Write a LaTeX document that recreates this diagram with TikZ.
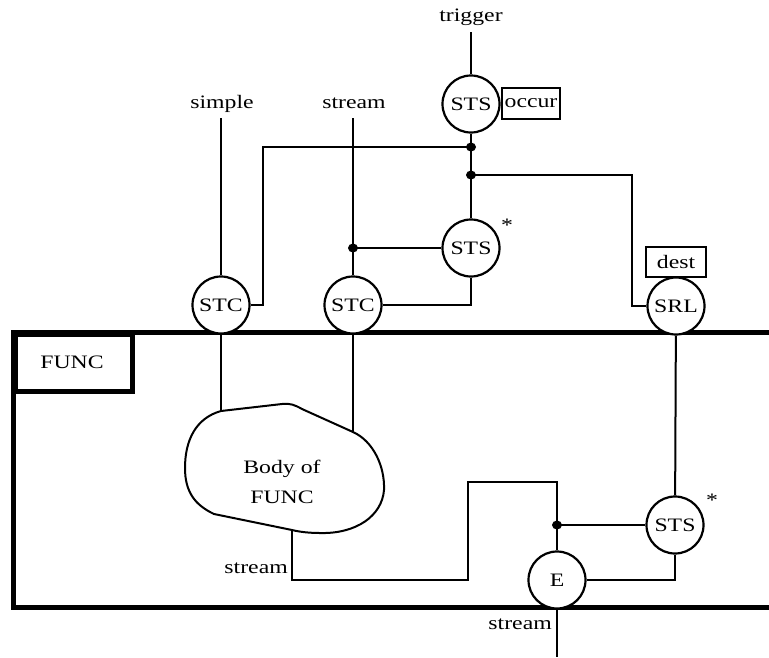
\documentclass[tikz,border=0pt]{standalone}
\usepackage{fontspec}
\setmainfont{Liberation Serif}[FakeStretch=1.25]
\begin{document}
\begin{tikzpicture}[x=1pt,y=-1pt,
  every node/.style={font=\fontsize{19}{30}\selectfont},
  conn/.style={line width=2pt},
  thickline/.style={line width=5pt},
  proc/.style={circle,draw,line width=2.2pt,fill=white,minimum size=57pt,inner sep=0pt},
  tagbox/.style={draw,line width=2pt,fill=white,inner sep=0pt},
  lbl/.style={inner sep=0pt},
  jdot/.style={fill=black}]
\useasboundingbox (0,0) rectangle (769,657);
% FUNC frame
\draw[thickline,line join=miter] (769,332) -- (13,332) -- (13,607) -- (769,607);
\node[draw,thickline,minimum width=117pt,minimum height=57pt,anchor=north west,inner sep=0pt] (funclab) at (13,332) {};
\node[lbl] (functext) at (72,362) {FUNC};
% labels
\node[lbl,anchor=base] (trigger) at (471,21) {trigger};
\node[lbl,anchor=base] (simple) at (222,108) {simple};
\node[lbl,anchor=base] (stream1) at (354,108) {stream};
\node[lbl,anchor=base east] (stream2) at (288,573) {stream};
\node[lbl,anchor=base east] (stream3) at (552,629) {stream};
% junctions and bends
\coordinate (j1) at (471,147);
\coordinate (j2) at (471,175);
\coordinate (j3) at (353,248);
\coordinate (j4) at (557,525);
\coordinate (c1) at (263,147);
\coordinate (c2) at (632,175);
\coordinate (b1) at (221,411);
\coordinate (b2) at (353,432);
\coordinate (b3) at (292,530);
\coordinate (d1) at (292,580);
\coordinate (d2) at (468,580);
\coordinate (d3) at (468,482);
\coordinate (d4) at (557,482);
\coordinate (eout) at (557,657);
\coordinate (simpleend) at (221,118);
\coordinate (streamend) at (353,118);
\coordinate (trigend) at (471,32);
% body blob
\draw[conn,line join=round] (b1) -- (282,404) .. controls (290,403) and (295,405) .. (302,409) -- (b2)
  .. controls (373,441) and (385,466) .. (384,490)
  .. controls (382,516) and (356,534) .. (320,533)
  .. controls (310,533) and (300,532) .. (b3) -- (214,514)
  .. controls (195,505) and (185,492) .. (185,468)
  .. controls (185,440) and (196,418) .. (b1) -- cycle;
\node[lbl,align=center] (bodytext) at (282,482) {Body of\\FUNC};
% processes
\node[proc] (sts1) at (471,104) {STS};
\node[proc] (sts2) at (471,248) {STS};
\node[proc] (stc1) at (221,305) {STC};
\node[proc] (stc2) at (353,305) {STC};
\node[proc] (srl) at (676,306) {SRL};
\node[proc] (sts3) at (675,525) {STS};
\node[proc] (e) at (557,580) {E};
\node[tagbox,minimum width=58pt,minimum height=31pt] (occur) at (531,103.5) {occur};
\node[tagbox,minimum width=60pt,minimum height=30pt] (dest) at (676,262) {dest};
\node[lbl] (ast1) at (507,225) {*};
\node[lbl] (ast2) at (712,500) {*};
% connectors
\draw[conn] (trigend) -- (sts1);
\draw[conn] (sts1) -- (j1) -- (j2) -- (sts2);
\draw[conn] (j1) -- (c1) |- (stc1);
\draw[conn] (simpleend) -- (stc1);
\draw[conn] (streamend) -- (j3) -- (stc2);
\draw[conn] (j3) -- (sts2);
\draw[conn] (sts2) |- (stc2);
\draw[conn] (j2) -- (c2) |- (srl);
\draw[conn] (stc1) -- (b1);
\draw[conn] (stc2) -- (b2);
\draw[conn] (b3) -- (d1) -- (d2) -- (d3) -- (d4) -- (j4) -- (e);
\draw[conn] (j4) -- (sts3);
\draw[conn] (srl) -- (sts3);
\draw[conn] (sts3) |- (e);
\draw[conn] (e) -- (eout);
% dots
\foreach \p in {j1,j2,j3,j4} \fill[jdot] (\p) ellipse (5pt and 4.5pt);
\end{tikzpicture}
\end{document}
